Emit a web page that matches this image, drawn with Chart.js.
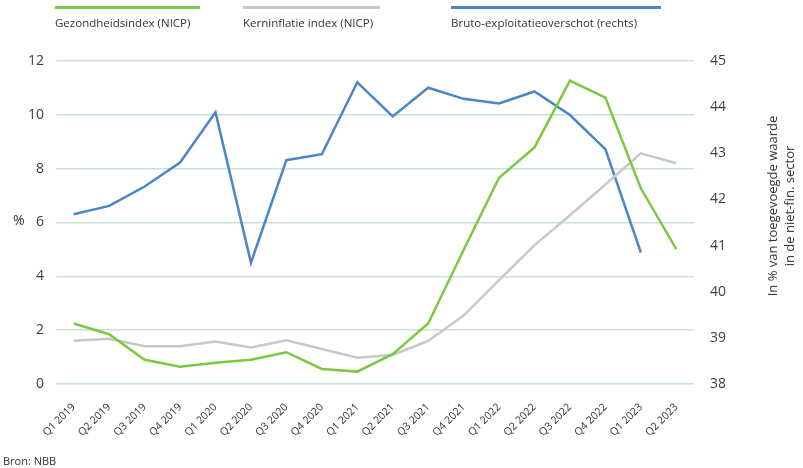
<!DOCTYPE html>
<html>
<head>
<meta charset="utf-8">
<script src="https://cdn.jsdelivr.net/npm/chart.js@4/dist/chart.umd.min.js"></script>
<style>
  html, body { margin: 0; padding: 0; background: #fff; }
  #wrap { position: relative; width: 803px; height: 468px; font-family: "Open Sans", sans-serif; color: #333; }
  canvas { position: absolute; left: 0; top: 0; }
  .leg { position: absolute; top: 6px; font-size: 11.5px; color: #333; font-family: "Open Sans", sans-serif; }
  .leg .bar { height: 3px; margin-bottom: 6px; }
  #pct { position: absolute; left: 13px; top: 210px; font-size: 14px; color: #333; }
  #rtitle { position: absolute; left: 781px; top: 207px; width: 240px; margin-left: -120px; margin-top: -18px;
            text-align: center; font-size: 13px; line-height: 17px; color: #333; transform: rotate(-90deg); transform-origin: 50% 50%; }
  #src { position: absolute; left: 3px; top: 453px; font-size: 11px; color: #333; }
</style>
</head>
<body>
<div id="wrap">
  <canvas id="c" width="803" height="468"></canvas>
  <div class="leg" style="left:55px;"><div class="bar" style="background:#7dc843;width:145px;"></div>Gezondheidsindex (NICP)</div>
  <div class="leg" style="left:243px;"><div class="bar" style="background:#c8c8c8;width:137px;"></div>Kerninflatie index (NICP)</div>
  <div class="leg" style="left:451px;"><div class="bar" style="background:#4a86c8;width:210px;"></div>Bruto-exploitatieoverschot (rechts)</div>
  <div id="pct">%</div>
  <div id="rtitle">In % van toegevoegde waarde<br>in de niet-fin. sector</div>
  <div id="src">Bron: NBB</div>
</div>
<script>
const categories = ["Q1 2019","Q2 2019","Q3 2019","Q4 2019","Q1 2020","Q2 2020","Q3 2020","Q4 2020",
  "Q1 2021","Q2 2021","Q3 2021","Q4 2021","Q1 2022","Q2 2022","Q3 2022","Q4 2022","Q1 2023","Q2 2023"];
const gezondheidsindex = [2.25,1.85,0.90,0.64,0.79,0.90,1.18,0.56,0.46,1.11,2.25,4.98,7.66,8.79,11.27,10.64,7.27,5.01];
const kerninflatie = [1.61,1.68,1.40,1.40,1.58,1.36,1.62,1.30,0.98,1.08,1.60,2.54,3.86,5.16,6.27,7.41,8.57,8.20];
const brutoExploitatie = [41.68,41.86,42.28,42.80,43.89,40.63,42.85,42.98,44.54,43.80,44.42,44.18,44.08,44.34,43.83,43.09,40.85,null];
const leftTicks = [0,2,4,6,8,10,12];
const rightTicks = [38,39,40,41,42,43,44,45];

const tickFont = { family: "Open Sans", size: 14 };
new Chart(document.getElementById('c'), {
  type: 'line',
  data: {
    labels: categories,
    datasets: [
      { label: 'Gezondheidsindex (NICP)', data: gezondheidsindex, borderColor: '#7dc843', borderWidth: 2.5, pointRadius: 0, yAxisID: 'y', tension: 0 },
      { label: 'Kerninflatie index (NICP)', data: kerninflatie, borderColor: '#c8c8c8', borderWidth: 2.5, pointRadius: 0, yAxisID: 'y', tension: 0 },
      { label: 'Bruto-exploitatieoverschot (rechts)', data: brutoExploitatie, borderColor: '#4a86c8', borderWidth: 2.5, pointRadius: 0, yAxisID: 'y1', tension: 0 }
    ]
  },
  options: {
    responsive: false,
    animation: false,
    layout: { padding: { top: 61, bottom: 0, left: 0, right: 0 } },
    plugins: { legend: { display: false }, tooltip: { enabled: false } },
    scales: {
      x: {
        type: 'category',
        offset: true,
        grid: { display: false },
        border: { display: false },
        ticks: { font: { family: "Open Sans", size: 10.5 }, color: '#333', minRotation: 45, maxRotation: 45, padding: 9, autoSkip: false },
        afterFit: s => { s.height = 84; }
      },
      y: {
        position: 'left', min: 0, max: 12,
        afterBuildTicks: s => { s.ticks = leftTicks.map(v => ({ value: v })); },
        grid: { color: '#c8e0df', lineWidth: 1.5, drawTicks: false },
        border: { display: false },
        ticks: { font: tickFont, color: '#404040', padding: 12 },
        afterFit: s => { s.width = 56; }
      },
      y1: {
        position: 'right', min: 38, max: 45,
        afterBuildTicks: s => { s.ticks = rightTicks.map(v => ({ value: v })); },
        grid: { display: false, drawTicks: false },
        border: { display: false },
        ticks: { font: tickFont, color: '#404040', padding: 16 },
        afterFit: s => { s.width = 109; }
      }
    }
  }
});
</script>
</body>
</html>
